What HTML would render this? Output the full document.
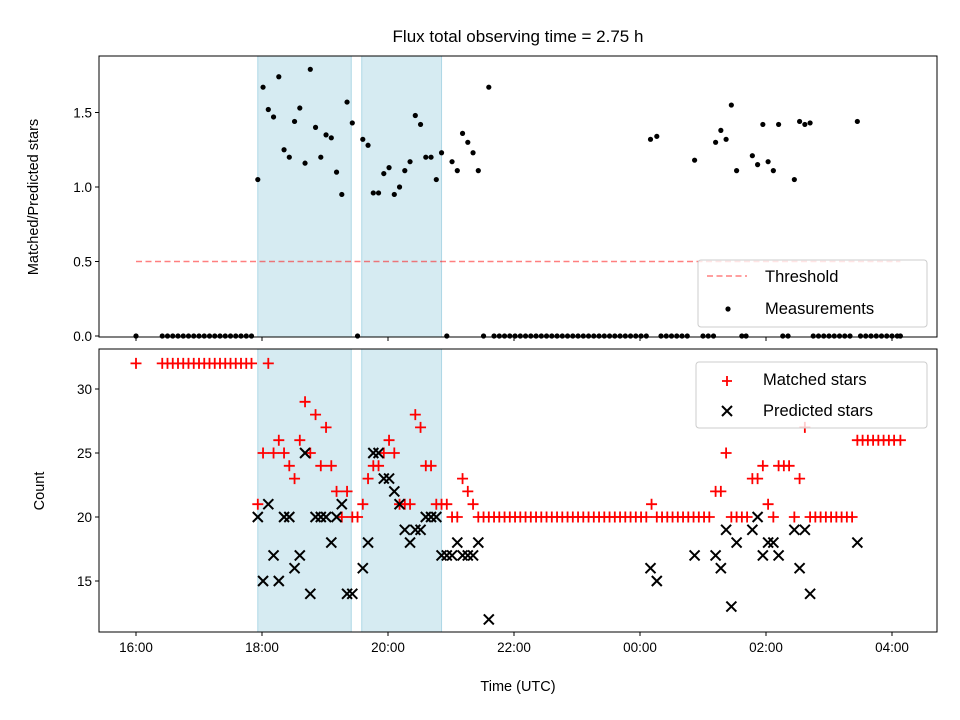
<!DOCTYPE html>
<html><head><meta charset="utf-8"><style>
body{margin:0;background:#fff;}
svg{display:block;font-family:"Liberation Sans","DejaVu Sans",sans-serif;}
</style></head><body>
<svg id="c" width="960" height="720" viewBox="0 0 960 720" xmlns="http://www.w3.org/2000/svg">
<rect width="960" height="720" fill="#fff"/>
<text x="518" y="42" font-size="17" text-anchor="middle">Flux total observing time = 2.75 h</text>
<g id="topPanel"></g>
<g id="botPanel"></g>
</svg>
<script>
// times in minutes since 16:00 UTC
const xTickLabels=["16:00","18:00","20:00","22:00","00:00","02:00","04:00"];
const xTickMinutes=[0,120,240,360,480,600,720];
const shadedStart=[116,215];
const shadedEnd=[205,291];
const thresholdValue=0.5;
const thresholdRange=[0,728];
const ratioTimes=[116,121,126,131,136,141,146,151,156,161,166,171,176,181,186,191,196,201,206,216,221,226,231,236,241,246,251,256,261,266,271,276,281,286,291,301,306,311,316,321,326,336,490,496,532,552,557,562,567,572,587,592,597,602,607,612,627,632,637,642,687];
const ratioVals=[1.05,1.67,1.52,1.47,1.74,1.25,1.20,1.44,1.53,1.16,1.79,1.40,1.20,1.35,1.33,1.10,0.95,1.57,1.43,1.32,1.28,0.96,0.96,1.09,1.13,0.95,1.00,1.11,1.17,1.48,1.42,1.20,1.20,1.05,1.23,1.17,1.11,1.36,1.30,1.23,1.11,1.67,1.32,1.34,1.18,1.30,1.38,1.32,1.55,1.11,1.21,1.15,1.42,1.17,1.11,1.42,1.05,1.44,1.42,1.43,1.44];
const zeroTimes=[0,25,30,35,40,45,50,55,60,65,70,75,80,85,90,95,100,105,110,211,296,331,341,346,351,356,361,366,371,376,381,386,391,396,401,406,411,416,421,426,431,436,441,446,451,456,461,466,471,476,481,486,500,505,510,515,520,525,540,545,550,577,581,616,621,645,650,655,660,665,670,675,680,690,695,700,705,710,715,720,725,728];
const matchedTimes=[0,25,30,35,40,45,50,55,60,65,70,75,80,85,90,95,100,105,110,126,116,121,131,136,141,146,151,156,161,166,171,176,181,186,191,196,201,206,211,216,221,226,231,236,241,246,251,256,261,266,271,276,281,286,291,296,301,306,311,316,321,326,331,336,341,346,351,356,361,366,371,376,381,386,391,396,401,406,411,416,421,426,431,436,441,446,451,456,461,466,471,476,481,486,491,496,501,506,511,516,521,526,531,536,541,546,552,557,562,567,572,577,582,587,592,597,602,607,612,617,622,627,632,637,642,647,652,657,662,667,672,677,682,687,692,697,702,707,712,717,722,728];
const matchedVals=[32,32,32,32,32,32,32,32,32,32,32,32,32,32,32,32,32,32,32,32,21,25,25,26,25,24,23,26,29,25,28,24,27,24,22,20,22,20,20,21,23,24,24,25,26,25,21,21,21,28,27,24,24,21,21,21,20,20,23,22,21,20,20,20,20,20,20,20,20,20,20,20,20,20,20,20,20,20,20,20,20,20,20,20,20,20,20,20,20,20,20,20,20,20,21,20,20,20,20,20,20,20,20,20,20,20,22,22,25,20,20,20,20,23,23,24,21,20,24,24,24,20,23,27,20,20,20,20,20,20,20,20,20,26,26,26,26,26,26,26,26,26];
const predictedTimes=[116,121,126,131,136,141,146,151,156,161,166,171,176,181,186,191,196,201,206,216,221,226,231,236,241,246,251,256,261,266,271,276,281,286,291,296,301,306,311,316,321,326,336,490,496,532,552,557,562,567,572,587,592,597,602,607,612,627,632,637,642,687];
const predictedVals=[20,15,21,17,15,20,20,16,17,25,14,20,20,20,18,20,21,14,14,16,18,25,25,23,23,22,21,19,18,19,19,20,20,20,17,17,17,18,17,17,17,18,12,16,15,17,17,16,19,13,18,19,20,17,18,18,17,19,16,19,14,18];

const NS="http://www.w3.org/2000/svg";
const L=99,R=937;
const T1=56,B1=337,T2=349,B2=632;
const xs=m=>136+m*63/60;
const y1=v=>336-v*149;
const y2=v=>517-(v-20)*12.8;
function mk(p,tag,a){const e=document.createElementNS(NS,tag);for(const k in a)e.setAttribute(k,a[k]);p.appendChild(e);return e;}
const gTop=document.getElementById('topPanel'),gBot=document.getElementById('botPanel');

for(let i=0;i<shadedStart.length;i++){
  for(const [g,t,b] of [[gTop,T1,B1],[gBot,T2,B2]]){
    const r=mk(g,'rect',{x:xs(shadedStart[i]),y:t,width:xs(shadedEnd[i])-xs(shadedStart[i]),height:b-t,fill:'#add8e6','fill-opacity':0.5,stroke:'#add8e6','stroke-width':1});
    
    
  }
}
const th=mk(gTop,'line',{x1:xs(thresholdRange[0]),x2:xs(thresholdRange[1]),y1:y1(thresholdValue),y2:y1(thresholdValue),stroke:'#ff0000','stroke-opacity':0.5,'stroke-width':1.6,'stroke-dasharray':'6,3.5'});


for(let i=0;i<ratioTimes.length;i++){
  const c=mk(gTop,'circle',{cx:xs(ratioTimes[i]),cy:y1(ratioVals[i]),r:2.6,fill:'#000'});
  
  
}
for(let i=0;i<zeroTimes.length;i++){
  const c=mk(gTop,'circle',{cx:xs(zeroTimes[i]),cy:y1(0),r:2.6,fill:'#000'});
  
  
}
for(let i=0;i<matchedTimes.length;i++){
  const x=xs(matchedTimes[i]),y=y2(matchedVals[i]);
  const p=mk(gBot,'path',{d:`M${x-5.5},${y}H${x+5.5}M${x},${y-5.5}V${y+5.5}`,stroke:'#ff0000','stroke-width':1.8,fill:'none'});
  
  
}
for(let i=0;i<predictedTimes.length;i++){
  const x=xs(predictedTimes[i]),y=y2(predictedVals[i]);
  const p=mk(gBot,'path',{d:`M${x-5},${y-5}L${x+5},${y+5}M${x-5},${y+5}L${x+5},${y-5}`,stroke:'#000','stroke-width':2,fill:'none'});
  
  
}
mk(gTop,'rect',{x:L,y:T1,width:R-L,height:B1-T1,fill:'none',stroke:'#000','stroke-width':1});
mk(gBot,'rect',{x:L,y:T2,width:R-L,height:B2-T2,fill:'none',stroke:'#000','stroke-width':1});
for(let i=0;i<xTickMinutes.length;i++){
  const x=xs(xTickMinutes[i]);
  mk(gTop,'line',{x1:x,x2:x,y1:B1,y2:B1+4,stroke:'#000'});
  mk(gBot,'line',{x1:x,x2:x,y1:B2,y2:B2+4,stroke:'#000'});
  const t=mk(gBot,'text',{x:x,y:B2+20,'font-size':13.5,'text-anchor':'middle'});
  t.textContent=xTickLabels[i];
  
  
}
const topYTicks=[0,0.5,1.0,1.5];
const botYTicks=[15,20,25,30];
for(const v of topYTicks){const y=y1(v);mk(gTop,'line',{x1:L-4,x2:L,y1:y,y2:y,stroke:'#000'});
  const t=mk(gTop,'text',{x:L-7,y:y+5,'font-size':13.5,'text-anchor':'end'});t.textContent=v.toFixed(1);
  
  }
for(const v of botYTicks){const y=y2(v);mk(gBot,'line',{x1:L-4,x2:L,y1:y,y2:y,stroke:'#000'});
  const t=mk(gBot,'text',{x:L-7,y:y+5,'font-size':13.5,'text-anchor':'end'});t.textContent=v;
  
  }
</script>
<svg style="position:absolute;left:0;top:0" width="960" height="720" xmlns="http://www.w3.org/2000/svg" font-family="Liberation Sans, DejaVu Sans, sans-serif">
<text x="0" y="0" transform="translate(38,197) rotate(-90)" font-size="14.5" text-anchor="middle">Matched/Predicted stars</text>
<text x="0" y="0" transform="translate(44,491) rotate(-90)" font-size="14.5" text-anchor="middle">Count</text>
<text x="518" y="691" font-size="14.5" text-anchor="middle">Time (UTC)</text>
<g>
<rect x="698" y="260" width="229" height="67" rx="3" fill="#fff" fill-opacity="0.8" stroke="#ccc"/>
<line x1="707" x2="747" y1="276" y2="276" stroke="#ff0000" stroke-opacity="0.5" stroke-width="1.6" stroke-dasharray="6,3.5"/>
<text x="765" y="282" font-size="16.5">Threshold</text>
<circle cx="728" cy="309" r="2.6" fill="#000"/>
<text x="765" y="314" font-size="16.5">Measurements</text>
</g>
<g>
<rect x="696" y="362" width="231" height="66" rx="3" fill="#fff" fill-opacity="0.8" stroke="#ccc"/>
<path d="M722,381H732M727,376V386" stroke="#ff0000" stroke-width="1.8"/>
<text x="763" y="385" font-size="16.5">Matched stars</text>
<path d="M722,406L732,416M722,416L732,406" stroke="#000" stroke-width="2"/>
<text x="763" y="416" font-size="16.5">Predicted stars</text>
</g>
</svg>
</body></html>
